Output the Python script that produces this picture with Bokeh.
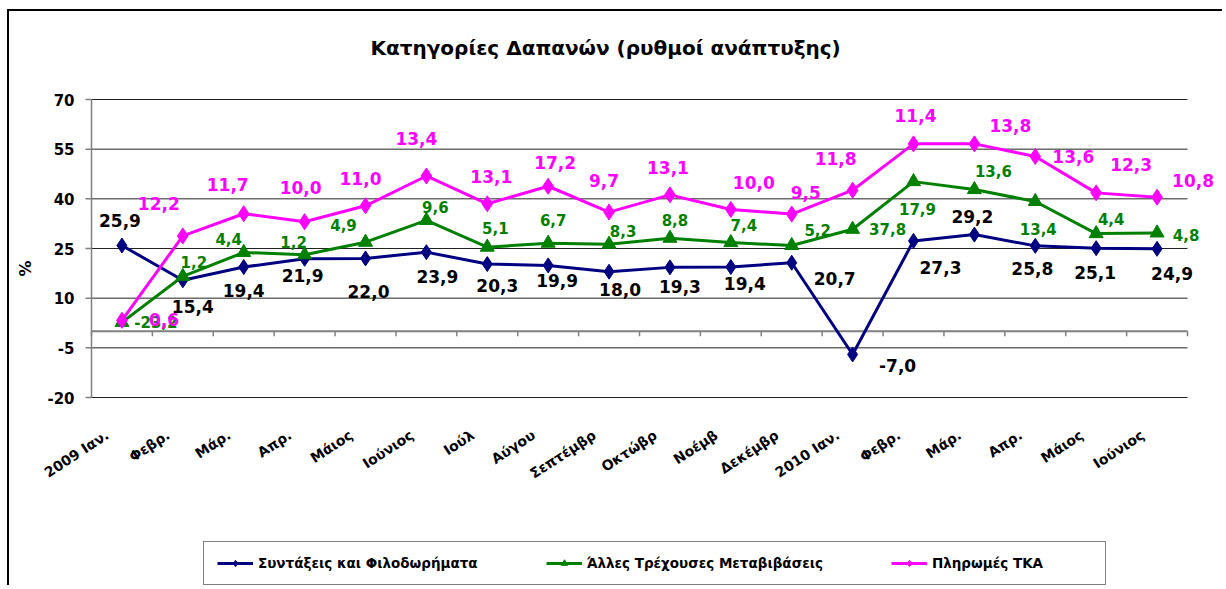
import numpy as np
from bokeh.plotting import figure
from bokeh.models import ColumnDataSource, Title
from bokeh.core.properties import value
from bokeh.embed import file_html
from bokeh.resources import INLINE

# ---- data ----
categories = ["2009 Ιαν.", "Φεβρ.", "Μάρ.", "Απρ.", "Μάιος", "Ιούνιος", "Ιούλ",
              "Αύγου", "Σεπτέμβρ", "Οκτώβρ", "Νοέμβ", "Δεκέμβρ", "2010 Ιαν.",
              "Φεβρ.", "Μάρ.", "Απρ.", "Μάιος", "Ιούνιος"]
pensions = [25.9, 15.4, 19.4, 21.9, 22.0, 23.9, 20.3, 19.9, 18.0, 19.3, 19.4, 20.7,
            -7.0, 27.3, 29.2, 25.8, 25.1, 24.9]
other_transfers = [-23.2, 1.2, 4.4, 1.2, 4.9, 9.6, 5.1, 6.7, 8.3, 8.8, 7.4, 5.2,
                   37.8, 17.9, 13.6, 13.4, 4.4, 4.8]
tka_payments = [0.6, 12.2, 11.7, 10.0, 11.0, 13.4, 13.1, 17.2, 9.7, 13.1, 10.0, 9.5,
                11.8, 11.4, 13.8, 13.6, 12.3, 10.8]
y_ticks = [-20, -5, 10, 25, 40, 55, 70]
series_names = ["Συντάξεις και Φιλοδωρήματα", "Άλλες Τρέχουσες Μεταβιβάσεις", "Πληρωμές ΤΚΑ"]
title_text = "Κατηγορίες Δαπανών (ρυθμοί ανάπτυξης)"
y_title = "%"

# label placement offsets (screen px)
blue_off = [(-2, -25), (10, 26), (0, 23), (-2, 17), (3, 33), (11, 24), (10, 21), (9, 15),
            (11, 18), (10, 19), (14, 16), (43, 16), (45, 11), (27, 27), (-2, -18),
            (-3, 23), (-1, 24), (15, 25)]
green_off = [(34, 0), (11, -14), (-15, -13), (-11, -13), (-22, -17), (9, -13), (8, -19),
             (5, -23), (14, -13), (5, -18), (13, -18), (26, -16), (35, 0), (4, 27),
             (19, -19), (3, 28), (15, -15), (29, 2)]
pink_off = [(42, -1), (-24, -32), (-16, -29), (-4, -34), (-5, -27), (-10, -37), (4, -27),
            (7, -24), (-5, -32), (-2, -27), (23, -27), (14, -22), (-17, -32), (2, -28),
            (36, -18), (38, 0), (35, -28), (36, -17)]

n = len(categories)
x = np.arange(n)
c1 = np.array(pensions)
c2 = c1 + np.array(other_transfers)
c3 = c2 + np.array(tka_payments)


def fmt(v):
    return f"{v:.1f}".replace(".", ",")


# canvas geometry (canvas starts at page x=9, y=11)
W, H = 1215, 576
FL, FT, FR, FB = 0, 78, 1212, 574
AX, AY = 82, 88              # canvas x of the value axis line, canvas y of the top gridline
y_lo, y_hi = y_ticks[0], y_ticks[-1]
px_per_unit = 298 / (y_hi - y_lo)
cat_px = (1187 - 91) / n
x_start = -0.5 - (AX - FL) / cat_px
x_end = -0.5 + (FR - AX) / cat_px
y_top = y_hi + (AY - FT) / px_per_unit
y_bottom = y_hi - (FB - AY) / px_per_unit

p = figure(width=W, height=H, x_range=(x_start, x_end), y_range=(y_bottom, y_top),
           output_backend="svg", toolbar_location=None,
           min_border_left=FL, min_border_right=W - FR, min_border_top=FT,
           min_border_bottom=H - FB)
p.styles = {"margin-left": "7px", "margin-top": "9px",
            "border-top": "2px solid #000", "border-left": "2px solid #000"}
p.outline_line_color = None
p.background_fill_color = "white"
p.border_fill_color = "white"
p.xaxis.visible = False
p.yaxis.visible = False
p.xgrid.visible = False
p.ygrid.visible = False

# titles: a spacer next to the frame, then the main title above it
p.title.text = ""
p.add_layout(Title(text=" ", text_font_size="10px", standoff=17), "above")
p.add_layout(Title(text=title_text, align="left", offset=361, vertical_align="bottom",
                   standoff=0, text_font="DejaVu Sans", text_font_size="20px",
                   text_font_style="bold", text_color="black"), "above")

# horizontal gridlines over the category span
nt = len(y_ticks)
p.segment(x0=np.full(nt, -0.5), y0=y_ticks, x1=np.full(nt, n - 0.5), y1=y_ticks,
          line_color="#222222", line_width=1)
# value axis: line, ticks, labels, title
p.segment(x0=[-0.5], y0=[y_lo], x1=[-0.5], y1=[y_hi], line_color="#808080", line_width=1.5)
p.segment(x0=np.full(nt, -0.5), y0=y_ticks, x1=np.full(nt, -0.5 - 6 / cat_px), y1=y_ticks,
          line_color="#808080", line_width=1.5)
p.text(x=np.full(nt, -0.5), y=y_ticks, text=[str(t) for t in y_ticks], x_offset=-17,
       text_align="right", text_baseline="middle", text_font=value("DejaVu Sans"),
       text_font_style="bold", text_font_size="15px", text_color="black")
p.text(x=[-0.5], y=[(y_lo + y_hi) / 2], text=[y_title], x_offset=-66, y_offset=20,
       angle=np.pi / 2, text_align="center", text_baseline="middle",
       text_font=value("DejaVu Sans"), text_font_style="bold", text_font_size="16px",
       text_color="black")

# category axis line at zero with boundary ticks
p.segment(x0=[-0.5], y0=[0], x1=[n - 0.5], y1=[0], line_color="#808080", line_width=2)
bounds = np.arange(n + 1) - 0.5
p.segment(x0=bounds, y0=np.zeros(len(bounds)), x1=bounds, y1=np.full(len(bounds), -1.5),
          line_color="#808080", line_width=1.5)
# category labels, rotated, below the plot area
cat_y = y_lo - 36 / px_per_unit
p.text(x=x - 0.24, y=np.full(n, cat_y), text=categories, angle=0.58,
       text_align="right", text_baseline="middle", text_font=value("DejaVu Sans"),
       text_font_style="bold", text_font_size="14px", text_color="black")

# series
colors = ["#000080", "#008000", "#FF00FF"]
p.line(x, c1, line_color=colors[0], line_width=3, legend_label=series_names[0])
p.scatter(x, c1, marker="diamond", size=15, color=colors[0], legend_label=series_names[0])
p.line(x, c2, line_color=colors[1], line_width=3, legend_label=series_names[1])
p.scatter(x, c2, marker="triangle", size=14, color=colors[1], legend_label=series_names[1])
p.line(x, c3, line_color=colors[2], line_width=3, legend_label=series_names[2])
p.scatter(x, c3, marker="diamond", size=16, color=colors[2], legend_label=series_names[2])


def add_labels(ys, vals, offs, color, size):
    src = ColumnDataSource(dict(x=x, y=ys, text=[fmt(v) for v in vals],
                                dx=[o[0] for o in offs], dy=[o[1] for o in offs]))
    p.text(x="x", y="y", text="text", x_offset="dx", y_offset="dy", source=src,
           text_font=value("DejaVu Sans"), text_font_style="bold", text_font_size=size,
           text_color=color, text_align="center", text_baseline="middle")


add_labels(c1, pensions, blue_off, "black", "17px")
add_labels(c2, other_transfers, green_off, "#008000", "15px")
add_labels(c3, tka_payments, pink_off, "#FF00FF", "17px")

lg = p.legend[0]
lg.orientation = "horizontal"
lg.location = (194, 0)
lg.border_line_color = "black"
lg.border_line_width = 1
lg.background_fill_color = "white"
lg.background_fill_alpha = 1
lg.label_text_font = "DejaVu Sans"
lg.label_text_font_size = "13.5px"
lg.label_text_font_style = "bold"
lg.label_text_color = "black"
lg.label_width = 160
lg.glyph_width = 36
lg.glyph_height = 16
lg.label_standoff = 5
lg.spacing = 68
lg.padding = 13
lg.margin = 0

open("out.html", "w").write(file_html(p, INLINE))
